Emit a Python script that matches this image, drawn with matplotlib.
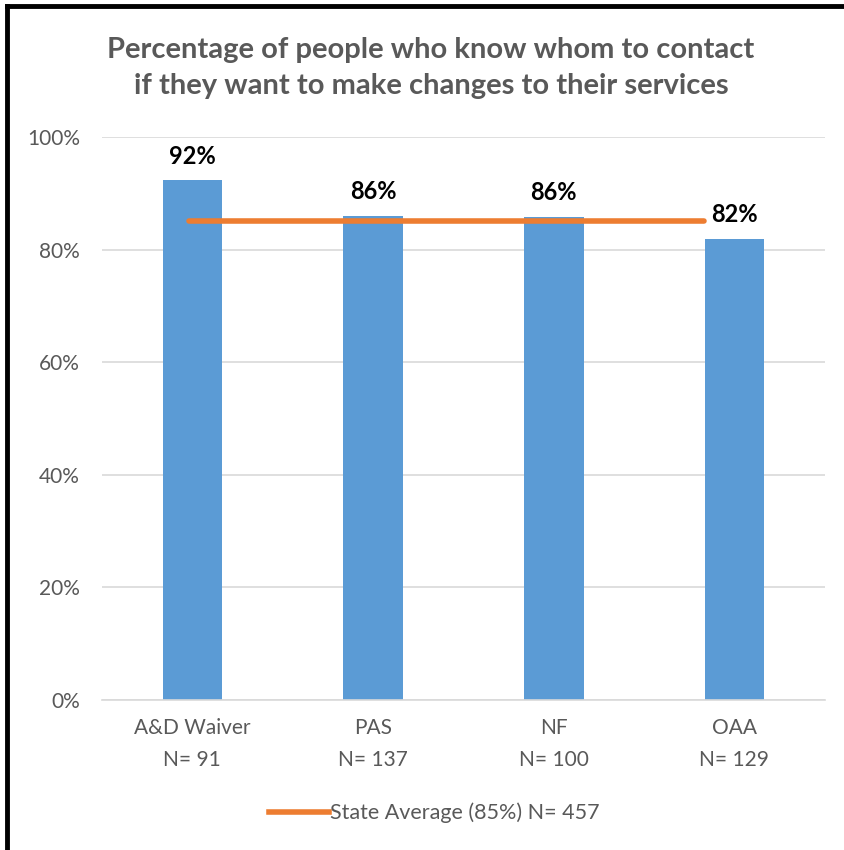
import matplotlib
matplotlib.use('Agg')
import matplotlib.pyplot as plt
from matplotlib.lines import Line2D

categories = ['A&D Waiver', 'PAS', 'NF', 'OAA']
sample_sizes = [91, 137, 100, 129]
percentages = [92.3, 86.0, 85.8, 81.9]
state_average = 85.0
state_n = 457

BLUE = '#5B9BD5'
ORANGE = '#ED7D31'
GRAY = '#595959'

plt.rcParams['font.family'] = ['Lato', 'DejaVu Sans']

fig = plt.figure(figsize=(8.45, 8.5), dpi=100)
ax = fig.add_axes([0.1207, 0.1765, 0.976 - 0.1207, 0.8388 - 0.1765])

x = list(range(len(categories)))
ax.bar(x, percentages, width=0.33, color=BLUE, zorder=2)

# state average line as drawn in the source: first bar centre to just short of the last
ax.plot([-0.02, 2.83], [state_average, state_average], color=ORANGE, linewidth=4,
        solid_capstyle='round', zorder=3)

for xi, v in zip(x, percentages):
    ax.annotate('%d%%' % round(v), xy=(xi, v), xytext=(0, 9), textcoords='offset points',
                ha='center', va='bottom', fontsize=17, fontweight='bold', color='black')

ax.set_xlim(-0.5, len(categories) - 0.5)
ax.set_ylim(0, 100)
ax.set_yticks([0, 20, 40, 60, 80, 100])
ax.set_yticklabels(['%d%%' % t for t in [0, 20, 40, 60, 80, 100]])
ax.set_xticks(x)
ax.set_xticklabels(['%s\nN= %d' % (c, n) for c, n in zip(categories, sample_sizes)],
                   linespacing=1.75)
ax.tick_params(axis='both', length=0, labelsize=15, labelcolor=GRAY)
ax.tick_params(axis='y', pad=16)
ax.tick_params(axis='x', pad=13)
ax.grid(axis='y', color='#D9D9D9', linewidth=1.2, zorder=0)
ax.set_axisbelow(True)
for side in ['top', 'right', 'left']:
    ax.spines[side].set_visible(False)
ax.spines['bottom'].set_color('#D9D9D9')
ax.spines['bottom'].set_linewidth(1.2)

fig.text(0.51, 0.92, 'Percentage of people who know whom to contact\nif they want to make changes to their services',
         ha='center', va='center', fontsize=21, fontweight='bold', color=GRAY, linespacing=1.43)

handle = Line2D([], [], color=ORANGE, linewidth=4)
fig.legend([handle], ['State Average (%d%%) N= %d' % (state_average, state_n)],
           loc='center', bbox_to_anchor=(0.514, 0.0435), frameon=False, fontsize=15.5,
           labelcolor=GRAY, handlelength=2.8, handletextpad=0.05)

# black frame on the left and top edges
fig.add_artist(Line2D([0.0083, 0.0083], [0, 0.9935], color='black', linewidth=3.5,
                      transform=fig.transFigure))
fig.add_artist(Line2D([0.0083, 1.0], [0.9935, 0.9935], color='black', linewidth=3.5,
                      transform=fig.transFigure))

fig.savefig('out.png', dpi=100)
plt.close()
